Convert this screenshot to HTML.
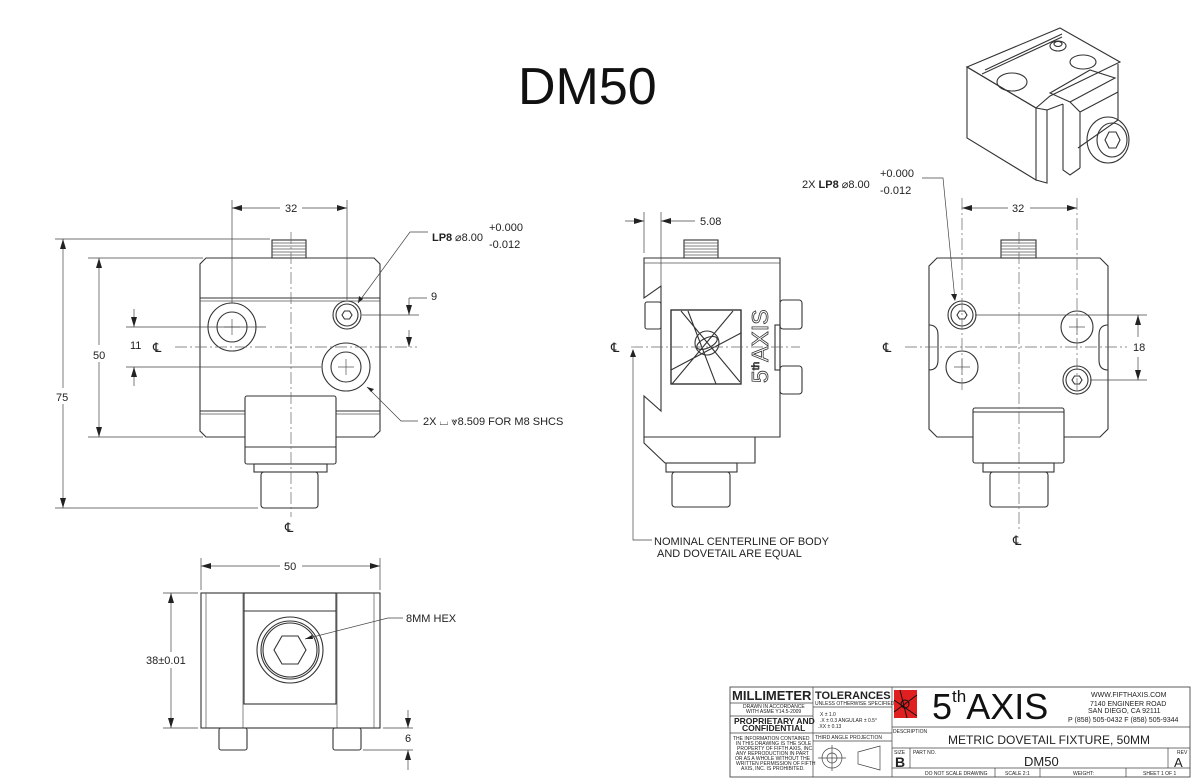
<!DOCTYPE html>
<html><head><meta charset="utf-8"><style>
html,body{margin:0;padding:0;background:#fff;}
svg{display:block;font-family:"Liberation Sans",sans-serif;}
.o{fill:none;stroke:#333;stroke-width:1.1}
.t{fill:none;stroke:#555;stroke-width:0.7}
.c{fill:none;stroke:#666;stroke-width:0.7;stroke-dasharray:12 3 2 3}
.d{fill:none;stroke:#444;stroke-width:0.7}
text{fill:#222;font-size:11px}
</style></head><body>
<svg width="1191" height="778" viewBox="0 0 1191 778" xmlns="http://www.w3.org/2000/svg">
<defs>
<marker id="a" viewBox="0 0 10 6" refX="10" refY="3" markerWidth="10" markerHeight="6" markerUnits="userSpaceOnUse" orient="auto-start-reverse"><path d="M0,0 L10,3 L0,6z" fill="#222"/></marker>
</defs>
<rect width="1191" height="778" fill="#fff"/>
<text x="518" y="104" style="font-size:52px;fill:#111">DM50</text>

<!-- FRONT VIEW -->
<g>
<path class="o" d="M245,437 H206 L200,431 V264 L206,258 H374 L380,264 V431 L374,437 H336"/>
<line class="o" x1="200" y1="298" x2="380" y2="298"/><line class="t" x1="200" y1="301" x2="380" y2="301"/>
<line class="o" x1="200" y1="411" x2="245" y2="411"/><line class="o" x1="336" y1="411" x2="380" y2="411"/>
<line class="t" x1="200" y1="414" x2="245" y2="414"/><line class="t" x1="336" y1="414" x2="380" y2="414"/>
<rect class="o" x="272" y="240" width="34" height="18"/>
<path class="t" d="M272,243 H306 M272,246 H306 M272,249 H306 M272,252 H306 M272,255 H306"/>
<rect class="o" x="245" y="396" width="91" height="68" rx="2"/>
<line class="o" x1="245" y1="447" x2="336" y2="447"/>
<rect class="o" x="254" y="464" width="73" height="8"/>
<rect class="o" x="261" y="472" width="57" height="36" rx="3"/>
<circle class="o" cx="232" cy="327" r="24"/><circle class="o" cx="232" cy="327" r="15"/>
<circle class="o" cx="346" cy="367" r="24"/><circle class="o" cx="346" cy="367" r="15"/>
<circle class="o" cx="347" cy="315" r="14"/><circle class="o" cx="347" cy="315" r="11"/>
<path class="o" d="M342,315 L344.5,311 H349.5 L352,315 L349.5,319 H344.5Z"/>
<path class="t" d="M224,327 H240 M232,319 V335 M338,367 H354 M346,359 V375"/>
<line class="c" x1="175" y1="347" x2="417" y2="347"/>
<line class="c" x1="291" y1="232" x2="291" y2="517"/>
<text x="285" y="532" style="font-size:13px">℄</text>
<path class="d" d="M232,200 V303 M347,200 V300"/>
<line class="d" x1="232" y1="208" x2="280" y2="208" marker-start="url(#a)"/>
<line class="d" x1="302" y1="208" x2="347" y2="208" marker-end="url(#a)"/>
<text x="285" y="212">32</text>
<path class="d" d="M55,239 H270 M55,508 H258"/>
<line class="d" x1="63" y1="239" x2="63" y2="388" marker-start="url(#a)"/>
<line class="d" x1="63" y1="404" x2="63" y2="508" marker-end="url(#a)"/>
<text x="56" y="401">75</text>
<path class="d" d="M88,258 H203 M88,437 H203"/>
<line class="d" x1="99" y1="258" x2="99" y2="345" marker-start="url(#a)"/>
<line class="d" x1="99" y1="362" x2="99" y2="437" marker-end="url(#a)"/>
<text x="93" y="359">50</text>
<path class="d" d="M126,327 H266 M126,367 H321"/>
<line class="d" x1="134" y1="309" x2="134" y2="327" marker-end="url(#a)"/>
<line class="d" x1="134" y1="386" x2="134" y2="367" marker-end="url(#a)"/>
<text x="130" y="349">11</text>
<text x="153" y="352" style="font-size:13px">℄</text>
<path class="d" d="M362,315 H419"/>
<path class="d" d="M409,298 H427"/>
<line class="d" x1="409" y1="298" x2="409" y2="315" marker-end="url(#a)"/>
<line class="d" x1="409" y1="330" x2="409" y2="347" marker-end="url(#a)"/>
<text x="431" y="300">9</text>
<polyline class="d" points="428,232 410,232 358,303"/>
<path d="M358,303 l1,-7 l4,3z" fill="#222"/>
<text x="432" y="241" style="font-weight:bold">LP8</text>
<text x="455" y="241">⌀8.00</text>
<text x="489" y="231">+0.000</text>
<text x="489" y="248">-0.012</text>
<polyline class="d" points="418,421 401,421 367,387"/>
<path d="M367,387 l7,2 l-3,3z" fill="#222"/>
<text x="423" y="425">2X ⌴ ⩔8.509 FOR M8 SHCS</text>
</g>

<!-- SIDE VIEW -->
<g>
<path class="o" d="M644,258 H780 V437 H644 V396 L661,411 V286 L644,298 Z"/>
<line class="t" x1="644" y1="263" x2="780" y2="263"/>
<rect class="o" x="684" y="240" width="34" height="18"/>
<path class="t" d="M684,243 H718 M684,246 H718 M684,249 H718 M684,252 H718 M684,255 H718"/>
<rect class="o" x="645" y="302" width="16" height="27" rx="2"/>
<rect class="o" x="780" y="300" width="22" height="29" rx="3"/>
<rect class="o" x="780" y="366" width="22" height="28" rx="3"/>
<rect class="o" x="775" y="325" width="5" height="45"/>
<rect class="o" x="671" y="310" width="70" height="74" style="stroke-width:1.4"/>
<path class="o" d="M681,311 L740,382 M671,370 L741,333 M688,311 L716,384 M672,384 L733,311"/>
<circle class="o" cx="707" cy="343" r="12"/><ellipse class="o" cx="707" cy="343" rx="11" ry="5" transform="rotate(-25 707 343)"/>
<text transform="translate(768,383) rotate(-90)" style="font-size:23px;fill:#fff;stroke:#333;stroke-width:0.8">5<tspan style="font-size:10px" dy="-9">th</tspan><tspan dy="9">AXIS</tspan></text>
<path class="o" d="M644,437 V443 L665,463 H755 V437"/>
<rect class="o" x="666" y="463" width="71" height="9"/>
<rect class="o" x="672" y="472" width="58" height="35" rx="3"/>
<line class="c" x1="631" y1="347" x2="800" y2="347"/>
<text x="611" y="352" style="font-size:13px">℄</text>
<path class="d" d="M644,212 V253 M661,212 V286"/>
<line class="d" x1="625" y1="221" x2="644" y2="221" marker-end="url(#a)"/>
<line class="d" x1="695" y1="221" x2="661" y2="221" marker-end="url(#a)"/>
<text x="700" y="225">5.08</text>
<polyline class="d" points="652,540 633,540 633,350"/>
<path d="M633,349 l-3,8 h6z" fill="#222"/>
<text x="654" y="545">NOMINAL CENTERLINE OF BODY</text>
<text x="657" y="557">AND DOVETAIL ARE EQUAL</text>
</g>

<!-- RIGHT VIEW -->
<g>
<path class="o" d="M973,437 H937 L929,429 V266 L937,258 H1100 L1108,266 V429 L1100,437 H1064"/>
<rect class="o" x="1001" y="240" width="35" height="18"/>
<path class="t" d="M1001,243 H1036 M1001,246 H1036 M1001,249 H1036 M1001,252 H1036 M1001,255 H1036"/>
<path class="o" d="M929,325 Q938,325 938,335 V360 Q938,370 929,370"/>
<path class="o" d="M1108,325 Q1099,325 1099,335 V360 Q1099,370 1108,370"/>
<circle class="o" cx="962" cy="315" r="14"/><circle class="o" cx="962" cy="315" r="11"/>
<path class="o" d="M957,315 L959.5,311 H964.5 L967,315 L964.5,319 H959.5Z"/>
<circle class="o" cx="1077" cy="380" r="14"/><circle class="o" cx="1077" cy="380" r="11"/>
<path class="o" d="M1072,380 L1074.5,376 H1079.5 L1082,380 L1079.5,384 H1074.5Z"/>
<circle class="o" cx="962" cy="367" r="16"/><circle class="o" cx="1077" cy="327" r="16"/>
<path class="t" d="M954,367 H970 M962,359 V375 M1069,327 H1085 M1077,319 V335"/>
<rect class="o" x="973" y="408" width="91" height="55" rx="2"/>
<line class="o" x1="973" y1="412" x2="1064" y2="412"/>
<rect class="o" x="983" y="463" width="71" height="9"/>
<rect class="o" x="990" y="472" width="58" height="35" rx="3"/>
<line class="c" x1="905" y1="347" x2="1127" y2="347"/>
<line class="c" x1="1019" y1="232" x2="1019" y2="530"/>
<line class="c" x1="962" y1="198" x2="962" y2="390"/>
<line class="c" x1="1077" y1="198" x2="1077" y2="395"/>
<text x="883" y="352" style="font-size:13px">℄</text>
<text x="1013" y="545" style="font-size:13px">℄</text>
<line class="d" x1="962" y1="208" x2="1008" y2="208" marker-start="url(#a)"/>
<line class="d" x1="1030" y1="208" x2="1077" y2="208" marker-end="url(#a)"/>
<text x="1012" y="212">32</text>
<path class="d" d="M975,315 H1147 M1090,380 H1147"/>
<line class="d" x1="1138" y1="315" x2="1138" y2="337" marker-start="url(#a)"/>
<line class="d" x1="1138" y1="357" x2="1138" y2="380" marker-end="url(#a)"/>
<text x="1133" y="351">18</text>
<polyline class="d" points="922,178 943,178 955,300"/>
<path d="M955,301 l-4,-7 h6z" fill="#222"/>
<text x="802" y="188">2X <tspan style="font-weight:bold">LP8</tspan> ⌀8.00</text>
<text x="880" y="177">+0.000</text>
<text x="880" y="194">-0.012</text>
</g>

<!-- BOTTOM VIEW -->
<g>
<rect class="o" x="201" y="593" width="179" height="135"/>
<path class="t" d="M206,593 V728 M374,593 V728 M243,593 V728 M337,593 V728"/>
<rect class="o" x="244" y="593" width="92" height="111"/>
<line class="o" x1="244" y1="611" x2="336" y2="611"/>
<circle class="o" cx="290" cy="650" r="33"/><circle class="o" cx="290" cy="650" r="29"/><circle class="o" cx="290" cy="650" r="27"/>
<path class="o" d="M274,650 L282,636 H298 L306,650 L298,664 H282Z"/>
<rect class="o" x="219" y="728" width="28" height="22" rx="2"/>
<rect class="o" x="333" y="728" width="28" height="22" rx="2"/>
<path class="d" d="M201,558 V590 M380,558 V590"/>
<line class="d" x1="201" y1="566" x2="280" y2="566" marker-start="url(#a)"/>
<line class="d" x1="302" y1="566" x2="380" y2="566" marker-end="url(#a)"/>
<text x="284" y="570">50</text>
<path class="d" d="M163,593 H198 M163,728 H198"/>
<line class="d" x1="171" y1="593" x2="171" y2="652" marker-start="url(#a)"/>
<line class="d" x1="171" y1="668" x2="171" y2="728" marker-end="url(#a)"/>
<text x="146" y="664">38±0.01</text>
<path class="d" d="M383,728 H413 M363,750 H413"/>
<line class="d" x1="408" y1="710" x2="408" y2="728" marker-end="url(#a)"/>
<line class="d" x1="408" y1="770" x2="408" y2="750" marker-end="url(#a)"/>
<text x="405" y="742">6</text>
<polyline class="d" points="403,618 388,618 305,639"/>
<path d="M305,639 l7,-4 l1,4z" fill="#222"/>
<text x="406" y="622">8MM HEX</text>
</g>

<!-- ISO VIEW -->
<g>
<path class="o" d="M967,67 L1060,28 L1120,62 L1050,96 L1036,108 Z" fill="#fff"/>
<path class="o" d="M967,67 V138 L1036,180 V108 Z" fill="#fff"/>
<path class="o" d="M985,70 L1062,34 M982,74 L1062,37"/>
<path class="o" d="M1036,108 L1047,110 V183 L1036,180"/>
<path class="o" d="M1047,110 L1063,104 M1118,64 V120 L1078,148"/>
<path class="o" d="M1050,93 L1090,70 L1115,78 L1070,102 Z" fill="#fff"/>
<path class="o" d="M1070,102 L1080,112 V168 M1080,112 L1118,92 M1063,104 V170 L1070,175 L1080,168"/>
<ellipse class="o" cx="1012" cy="82" rx="15" ry="9"/>
<ellipse class="o" cx="1083" cy="62" rx="13" ry="7"/>
<ellipse class="o" cx="1058" cy="46" rx="8" ry="5"/><ellipse class="o" cx="1058" cy="44" rx="4" ry="2.5"/>
<ellipse class="o" cx="1108" cy="140" rx="21" ry="23"/><ellipse class="o" cx="1112" cy="140" rx="15" ry="17"/>
<path class="o" d="M1105,140 L1109,132 H1116 L1120,140 L1116,148 H1109Z"/>
</g>

<!-- TITLE BLOCK -->
<g>
<rect class="o" x="730" y="687" width="460" height="90" style="stroke-width:0.8"/>
<path class="d" d="M813,687 V777 M892,687 V777 M730,703 H813 M730,716 H813 M730,733 H892 M813,707 H892 M813,741 H892 M892,727 H1190 M892,748 H1190 M910,748 V768 M1168,748 V768 M892,768 H1190 M995,768 V777 M1040,768 V777 M1126,768 V777"/>
<text x="732" y="700" style="font-size:13px;font-weight:bold">MILLIMETER</text>
<text x="743" y="708" style="font-size:5px">DRAWN IN ACCORDANCE</text>
<text x="746" y="713" style="font-size:5px">WITH ASME Y14.5-2009</text>
<text x="734" y="724" style="font-size:8.5px;font-weight:bold">PROPRIETARY AND</text>
<text x="742" y="731" style="font-size:8.5px;font-weight:bold">CONFIDENTIAL</text>
<text x="733" y="740" style="font-size:5px">THE INFORMATION CONTAINED</text>
<text x="736" y="745" style="font-size:5px">IN THIS DRAWING IS THE SOLE</text>
<text x="737" y="750" style="font-size:5px">PROPERTY OF FIFTH AXIS, INC.</text>
<text x="736" y="755" style="font-size:5px">ANY REPRODUCTION IN PART</text>
<text x="735" y="760" style="font-size:5px">OR AS A WHOLE WITHOUT THE</text>
<text x="736" y="765" style="font-size:5px">WRITTEN PERMISSION OF FIFTH</text>
<text x="741" y="770" style="font-size:5px">AXIS, INC. IS PROHIBITED.</text>
<text x="815" y="699" style="font-size:11px;font-weight:bold">TOLERANCES</text>
<text x="815" y="705" style="font-size:5px">UNLESS OTHERWISE SPECIFIED</text>
<text x="820" y="716" style="font-size:5px">X ± 1.0</text>
<text x="820" y="722" style="font-size:5px">.X ± 0.3   ANGULAR ± 0.5°</text>
<text x="818" y="728" style="font-size:5px">.XX ± 0.13</text>
<text x="815" y="739" style="font-size:5px">THIRD ANGLE PROJECTION</text>
<circle class="d" cx="832" cy="758" r="10"/><circle class="d" cx="832" cy="758" r="5"/>
<path class="d" d="M818,758 H846 M832,745 V771 M858,752 L880,746 V770 L858,764 Z"/>
<rect x="894" y="690" width="23" height="28" fill="#e02020"/>
<path d="M894,700 L917,716 M900,690 L907,718 M894,712 L917,695" stroke="#111" stroke-width="1" fill="none"/>
<circle cx="905" cy="704" r="4" fill="none" stroke="#111"/>
<text x="932" y="719" style="font-size:36px;fill:#111">5<tspan style="font-size:17px" dy="-17">th</tspan><tspan dy="17">AXIS</tspan></text>
<text x="1091" y="697" style="font-size:7px">WWW.FIFTHAXIS.COM</text>
<text x="1090" y="706" style="font-size:7px">7140 ENGINEER ROAD</text>
<text x="1088" y="713" style="font-size:7px">SAN DIEGO, CA 92111</text>
<text x="1068" y="722" style="font-size:7px">P (858) 505-0432 F (858) 505-9344</text>
<text x="893" y="733" style="font-size:5px">DESCRIPTION</text>
<text x="948" y="744" style="font-size:12px">METRIC DOVETAIL FIXTURE, 50MM</text>
<text x="894" y="754" style="font-size:5px">SIZE</text>
<text x="895" y="767" style="font-size:14px;font-weight:bold">B</text>
<text x="913" y="754" style="font-size:5px">PART NO.</text>
<text x="1024" y="766" style="font-size:13px">DM50</text>
<text x="1177" y="754" style="font-size:5px">REV</text>
<text x="1174" y="767" style="font-size:13px">A</text>
<text x="925" y="775" style="font-size:5px">DO NOT SCALE DRAWING</text>
<text x="1005" y="775" style="font-size:5px">SCALE 2:1</text>
<text x="1073" y="775" style="font-size:5px">WEIGHT:</text>
<text x="1143" y="775" style="font-size:5px">SHEET 1 OF 1</text>
</g>
</svg>
</body></html>
